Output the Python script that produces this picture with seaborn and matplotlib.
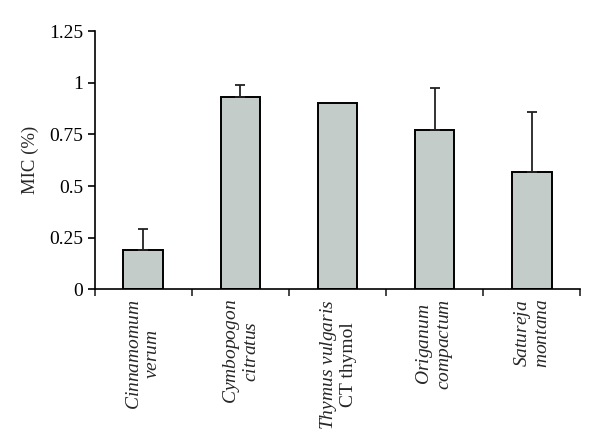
import matplotlib
matplotlib.use("Agg")
import matplotlib.pyplot as plt
import numpy as np
import pandas as pd
import seaborn as sns

species = [
    r"$\mathit{Cinnamomum}$" + "\n" + r"$\mathit{verum}$",
    r"$\mathit{Cymbopogon}$" + "\n" + r"$\mathit{citratus}$",
    r"$\mathit{Thymus\ vulgaris}$" + "\nCT thymol",
    r"$\mathit{Origanum}$" + "\n" + r"$\mathit{compactum}$",
    r"$\mathit{Satureja}$" + "\n" + r"$\mathit{montana}$",
]
mic = [0.19, 0.93, 0.90, 0.77, 0.57]
mic_err = [0.10, 0.06, 0.0, 0.205, 0.29]
yticks = [0, 0.25, 0.5, 0.75, 1, 1.25]
ytick_labels = ["0", "0.25", "0.5", "0.75", "1", "1.25"]

sns.set_style("ticks")
plt.rcParams["font.family"] = ["Liberation Serif", "DejaVu Serif"]
plt.rcParams["mathtext.fontset"] = "custom"
plt.rcParams["mathtext.rm"] = "Liberation Serif"
plt.rcParams["mathtext.it"] = "Liberation Serif:italic"

df = pd.DataFrame({"species": species, "mic": mic})

fig = plt.figure(figsize=(6, 4.45), dpi=100)
ax = fig.add_axes([0.158, 0.35, 0.809, 0.58])

sns.barplot(data=df, x="species", y="mic", color="#c3ccc8", saturation=1,
            width=0.41, edgecolor="black", linewidth=1.4, errorbar=None, ax=ax)

x = np.arange(len(species))
errs = np.array(mic_err)
mask = errs > 0
ax.errorbar(x[mask], np.array(mic)[mask],
            yerr=[np.zeros(mask.sum()), errs[mask]],
            fmt="none", ecolor="#222222", elinewidth=1.3, capsize=3.5, capthick=1.3)

ax.set_xlim(-0.5, len(species) - 0.5)
ax.set_ylim(0, 1.25)
ax.set_yticks(yticks)
ax.set_yticklabels(ytick_labels, fontsize=14)
ax.set_ylabel("MIC (%)", fontsize=13.5, labelpad=7)
ax.set_xlabel("")

ax.set_xticks(x)
ax.set_xticklabels(species, rotation=90, fontsize=14, va="top", ha="center",
                   multialignment="center", linespacing=1.1)
ax.tick_params(axis="x", which="major", length=0, pad=7)
ax.set_xticks(np.arange(-0.5, len(species)), minor=True)
ax.tick_params(axis="x", which="minor", length=5, width=1.2, direction="out")
ax.tick_params(axis="y", length=5, width=1.2, direction="out", colors="black")

for side in ["top", "right"]:
    ax.spines[side].set_visible(False)
for side in ["left", "bottom"]:
    ax.spines[side].set_linewidth(1.2)
    ax.spines[side].set_color("black")

fig.savefig("out.png", dpi=100)
